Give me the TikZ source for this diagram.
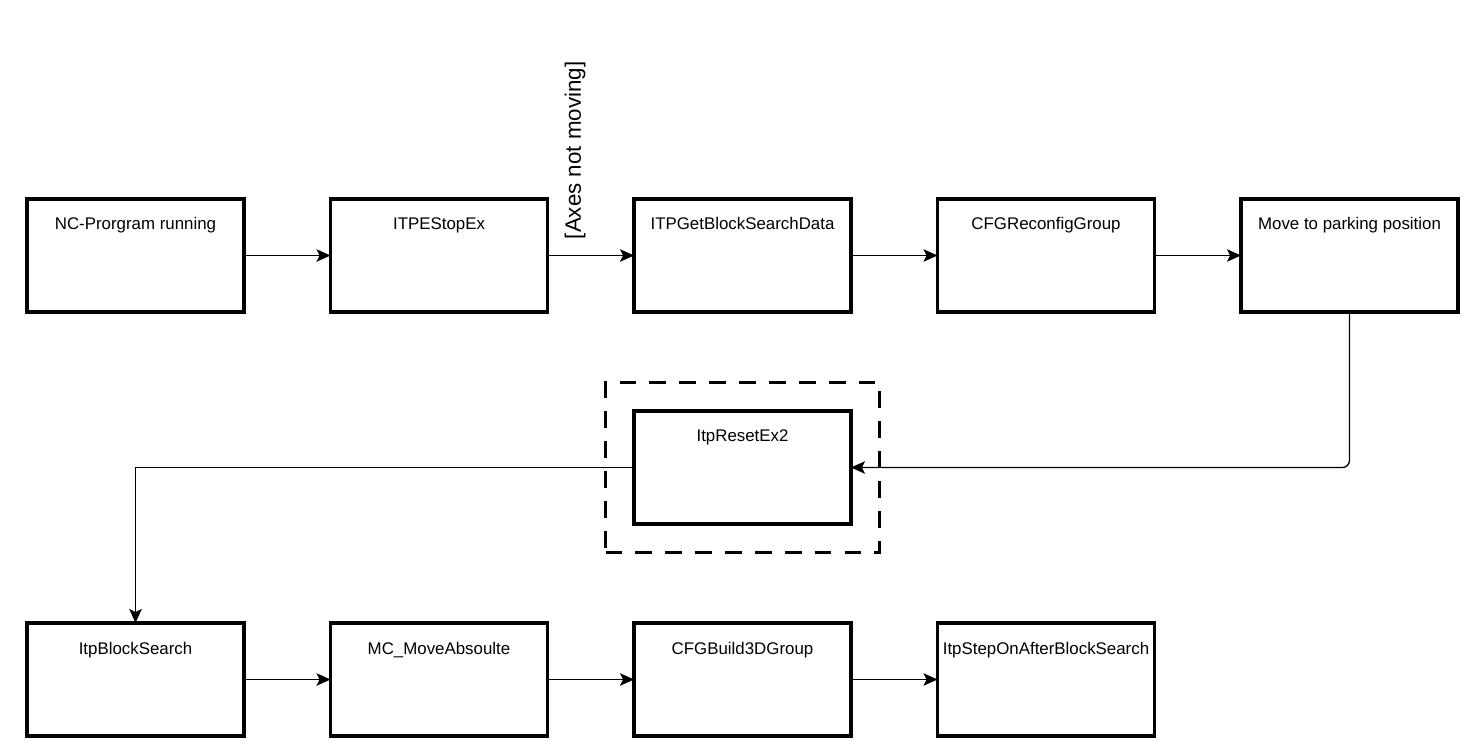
\documentclass[tikz,border=0pt]{standalone}
\usepackage{fontspec}
\setmainfont{Liberation Sans}
\usetikzlibrary{positioning, arrows.meta, calc, fit}

\begin{document}
\begin{tikzpicture}[
    block/.style={rectangle, draw=black, line width=2.2pt, minimum width=4.34cm, inner xsep=0pt, inner ysep=0pt, outer sep=0pt, text height=0.62cm, text depth=1.64cm, font=\fontsize{9.6}{11.5}\selectfont},
    flow/.style={-{Stealth[length=2.8mm, width=2.5mm, inset=0.6mm]}, line width=0.75pt, draw=black},
    dashbox/.style={rectangle, draw=black, line width=2.2pt, dash pattern=on 9.6pt off 7.4pt, inner sep=0.57cm, outer sep=0pt},
    guard/.style={rotate=90, anchor=west, inner sep=0pt, font=\fontsize{12.7}{15}\selectfont}
]
\useasboundingbox (0,0) rectangle (29.56,-15.08);

% Nodes
\node[block, anchor=north west] (run) at (0.54,-3.98) {NC-Prorgram running};
\node[block, right=1.73cm of run] (estop) {ITPEStopEx};
\node[block, right=1.73cm of estop] (getdata) {ITPGetBlockSearchData};
\node[block, right=1.73cm of getdata] (reconf) {CFGReconfigGroup};
\node[block, right=1.73cm of reconf] (park) {Move to parking position};

\node[block, below=1.98cm of getdata] (reset) {ItpResetEx2};
\node[dashbox, fit=(reset)] (resetgrp) {};

\node[block, below=6.22cm of run] (search) {ItpBlockSearch};
\node[block, right=1.73cm of search] (moveabs) {MC\_MoveAbsoulte};
\node[block, right=1.73cm of moveabs] (build) {CFGBuild3DGroup};
\node[block, right=1.73cm of build] (stepon) {ItpStepOnAfterBlockSearch};

% Connectors
\draw[flow] (run) -- (estop);
\draw[flow] (estop) -- (getdata);
\node[guard] (axes) at ($(estop.east)+(0.55,0.32)$) {[Axes not moving]};
\draw[flow] (getdata) -- (reconf);
\draw[flow] (reconf) -- (park);
\draw[flow, rounded corners=4pt] (park.south) |- (reset.east);
\draw[flow] (reset.west) -| (search.north);
\draw[flow] (search) -- (moveabs);
\draw[flow] (moveabs) -- (build);
\draw[flow] (build) -- (stepon);

\end{tikzpicture}
\end{document}
